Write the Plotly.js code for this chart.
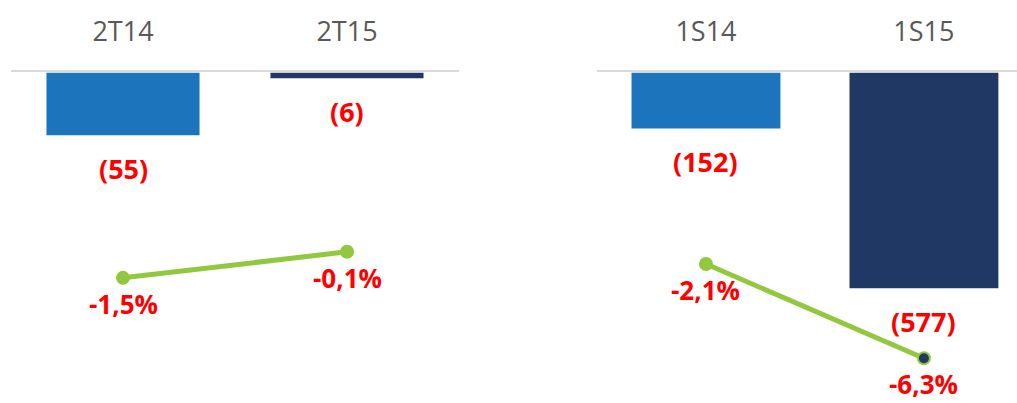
<!DOCTYPE html>
<html>
<head>
<meta charset="utf-8">
<script src="https://cdn.plot.ly/plotly-3.0.1.min.js"></script>
<style>html,body{margin:0;padding:0;background:#fff;}#chart{width:1017px;height:403px;}</style>
</head>
<body>
<div id="chart"></div>
<script>
// Left panel (quarter)
var catsQ = ['2T14', '2T15'];
var valuesQ = [-55, -6];
var pctQ = [-1.5, -0.1];
// Right panel (semester)
var catsS = ['1S14', '1S15'];
var valuesS = [-152, -577];
var pctS = [-2.1, -6.3];

var barColors = ['#1c75bc', '#203864'];
var lineColor = '#92c83e';
var labelFont = {family: 'Open Sans, Liberation Sans, sans-serif', size: 27, color: '#ff0000'};
var pctFont = {family: 'Open Sans, Liberation Sans, sans-serif', size: 26, color: '#ff0000'};

function paren(v) { return '<b>(' + Math.abs(v) + ')</b>'; }
function pct(v) { return '<b>' + v.toFixed(1).replace('.', ',') + '%</b>'; }

var traces = [
  {type: 'bar', x: catsQ, y: valuesQ, xaxis: 'x', yaxis: 'y', width: 0.69,
   marker: {color: barColors, line: {color: '#ffffff', width: 1.5}}, hoverinfo: 'skip'},
  {type: 'scatter', mode: 'lines+markers', x: catsQ, y: pctQ, xaxis: 'x', yaxis: 'y2',
   line: {color: lineColor, width: 5},
   marker: {size: 12, color: [lineColor, lineColor], line: {color: lineColor, width: 2}}, hoverinfo: 'skip'},
  {type: 'bar', x: catsS, y: valuesS, xaxis: 'x2', yaxis: 'y3', width: 0.69,
   marker: {color: barColors, line: {color: '#ffffff', width: 1.5}}, hoverinfo: 'skip'},
  {type: 'scatter', mode: 'lines+markers', x: catsS, y: pctS, xaxis: 'x2', yaxis: 'y4',
   line: {color: lineColor, width: 5},
   marker: {size: 12, color: [lineColor, '#203864'], line: {color: lineColor, width: 2}}, hoverinfo: 'skip'}
];

var annotations = [];
function addLabels(cats, vals, pcts, xr, yrBar, yrLine) {
  cats.forEach(function (c, i) {
    annotations.push({x: c, y: vals[i], xref: xr, yref: yrBar, text: paren(vals[i]),
      showarrow: false, yanchor: 'top', yshift: -12, font: labelFont});
    annotations.push({x: c, y: pcts[i], xref: xr, yref: yrLine, text: pct(pcts[i]),
      showarrow: false, yanchor: 'top', yshift: -9, height: 30, valign: 'middle', font: pctFont});
  });
}
addLabels(catsQ, valuesQ, pctQ, 'x', 'y', 'y2');
addLabels(catsS, valuesS, pctS, 'x2', 'y3', 'y4');

var xBase = {
  type: 'category', side: 'top', showline: true, linecolor: '#d9d9d9', linewidth: 2,
  ticks: '', showgrid: false, zeroline: false, fixedrange: true,
  tickfont: {family: 'Open Sans, Liberation Sans, sans-serif', size: 27, color: '#595959'},
  ticklabelstandoff: 18
};
var yHidden = {showgrid: false, zeroline: false, showticklabels: false, showline: false, ticks: '', fixedrange: true};

var layout = {
  width: 1017, height: 403,
  margin: {l: 0, r: 0, t: 0, b: 0},
  paper_bgcolor: '#ffffff', plot_bgcolor: 'rgba(0,0,0,0)',
  showlegend: false,
  xaxis: Object.assign({}, xBase, {domain: [11 / 1017, 459 / 1017], anchor: 'y', range: [-0.5, 1.5]}),
  yaxis: Object.assign({}, yHidden, {domain: [0, 331 / 403], anchor: 'x', range: [-284.5, 0]}),
  yaxis2: Object.assign({}, yHidden, {overlaying: 'y', anchor: 'x', range: [-8.23, 9.57]}),
  xaxis2: Object.assign({}, xBase, {domain: [597 / 1017, 1], anchor: 'y3', range: [-0.5, 1.427]}),
  yaxis3: Object.assign({}, yHidden, {domain: [0, 331 / 403], anchor: 'x2', range: [-880, 0]}),
  yaxis4: Object.assign({}, yHidden, {overlaying: 'y3', anchor: 'x2', range: [-8.30, 6.47]}),
  annotations: annotations
};

Plotly.newPlot('chart', traces, layout, {displayModeBar: false, staticPlot: true});
</script>
</body>
</html>
